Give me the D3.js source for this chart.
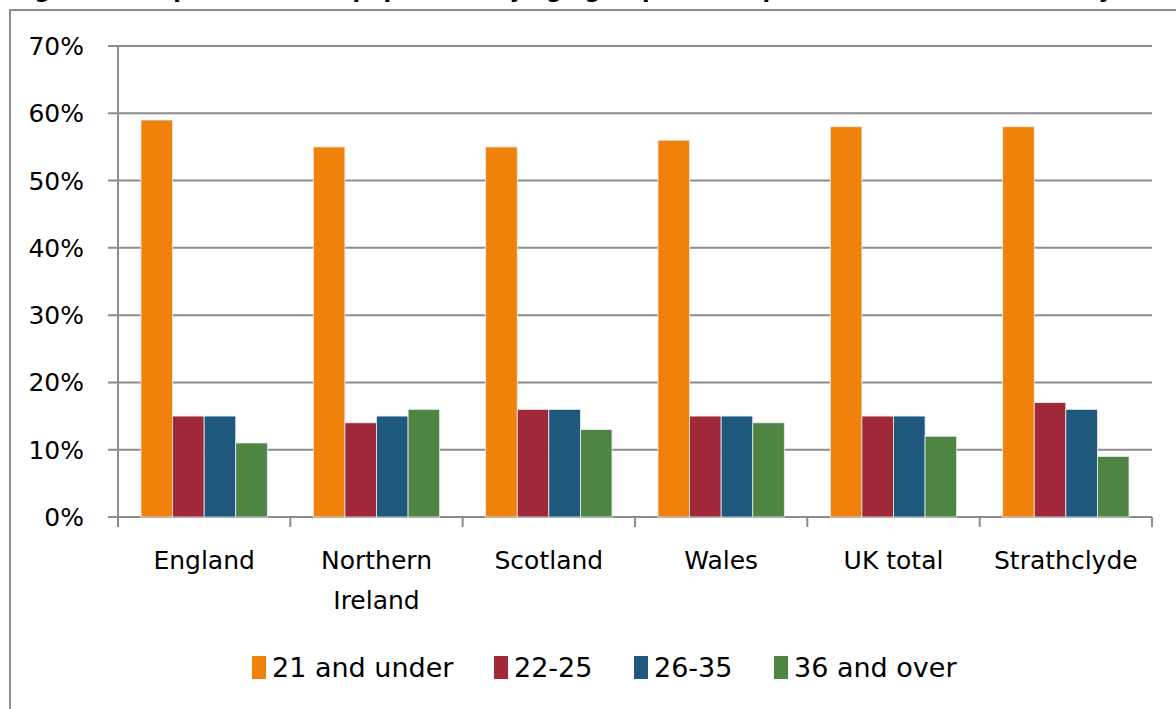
<!DOCTYPE html>
<html>
<head>
<meta charset="utf-8">
<script src="https://cdn.jsdelivr.net/npm/d3@7"></script>
<style>
  html, body { margin: 0; padding: 0; background: #fff; overflow: hidden; }
  svg { display: block; }
  text { font-family: "DejaVu Sans", sans-serif; fill: #000; }
</style>
</head>
<body>
<svg id="chart" width="1176" height="709"></svg>
<script>
const titleText = "Figure 3: Proportion of the population by age group in each part of the UK and Strathclyde";
const categories = [["England"], ["Northern", "Ireland"], ["Scotland"], ["Wales"], ["UK total"], ["Strathclyde"]];
const seriesNames = ["21 and under", "22-25", "26-35", "36 and over"];
const seriesColors = ["#F0820B", "#A12838", "#1E587C", "#4F8543"];
const under21 = [59, 55, 55, 56, 58, 58];
const age22to25 = [15, 14, 16, 15, 15, 17];
const age26to35 = [15, 15, 16, 15, 15, 16];
const over36 = [11, 16, 13, 14, 12, 9];
const yTicks = [0, 10, 20, 30, 40, 50, 60, 70];

(function () {
const seriesValues = [under21, age22to25, age26to35, over36];
const svg = d3.select("#chart");
const grid = "#8c8c8c";

svg.append("line").attr("x1", 9).attr("x2", 1176).attr("y1", 10).attr("y2", 10)
  .attr("stroke", grid).attr("stroke-width", 2);
svg.append("line").attr("x1", 10).attr("x2", 10).attr("y1", 9).attr("y2", 709)
  .attr("stroke", grid).attr("stroke-width", 2);

svg.append("text").attr("x", 12).attr("y", -2)
  .style("font-size", "22px").style("font-weight", "bold")
  .text(titleText);

const pL = 118, pR = 1152, pT = 46, pB = 517;
const y = d3.scaleLinear().domain([0, 70]).range([pB, pT]);
const x0 = d3.scaleBand().domain(d3.range(categories.length)).range([pL, pR]).padding(0);
const groupPad = 23;
const x1 = d3.scaleBand().domain(d3.range(seriesNames.length))
  .range([groupPad, x0.bandwidth() - groupPad]).padding(0);

svg.append("g").selectAll("line").data(yTicks).join("line")
  .attr("x1", pL - 10).attr("x2", pR)
  .attr("y1", d => y(d)).attr("y2", d => y(d))
  .attr("stroke", grid).attr("stroke-width", 2);

svg.append("line").attr("x1", pL).attr("x2", pL).attr("y1", pT).attr("y2", pB + 10)
  .attr("stroke", grid).attr("stroke-width", 2);

svg.append("g").selectAll("line").data(d3.range(categories.length + 1)).join("line")
  .attr("x1", i => pL + i * x0.bandwidth()).attr("x2", i => pL + i * x0.bandwidth())
  .attr("y1", pB).attr("y2", pB + 10)
  .attr("stroke", grid).attr("stroke-width", 2);

svg.append("g").selectAll("text").data(yTicks).join("text")
  .attr("x", 84).attr("y", d => y(d)).attr("dy", "0.36em")
  .attr("text-anchor", "end").style("font-size", "25px")
  .text(d => d + "%");

const groups = svg.append("g").selectAll("g").data(categories).join("g")
  .attr("transform", (d, i) => `translate(${x0(i)},0)`);
groups.selectAll("rect").data((d, i) => seriesValues.map((s, j) => ({ j, v: s[i] }))).join("rect")
  .attr("x", d => x1(d.j)).attr("width", x1.bandwidth())
  .attr("y", d => y(d.v)).attr("height", d => y(0) - y(d.v))
  .attr("fill", d => seriesColors[d.j])
  .attr("stroke", "#e8eef2").attr("stroke-width", 0.8);

const catLabels = svg.append("g").selectAll("text").data(categories).join("text")
  .attr("text-anchor", "middle").style("font-size", "25px")
  .attr("transform", (d, i) => `translate(${x0(i) + x0.bandwidth() / 2},0)`);
catLabels.selectAll("tspan").data(d => d).join("tspan")
  .attr("x", 0).attr("y", (d, k) => 569 + k * 40).text(d => d);

const legendX = [252, 494, 634, 774];
const legend = svg.append("g").selectAll("g").data(seriesNames).join("g")
  .attr("transform", (d, i) => `translate(${legendX[i]},656)`);
legend.append("rect").attr("width", 14).attr("height", 23)
  .attr("fill", (d, i) => seriesColors[i]);
legend.append("text").attr("x", 20).attr("y", 21).style("font-size", "27px").text(d => d);
})();
</script>
</body>
</html>
